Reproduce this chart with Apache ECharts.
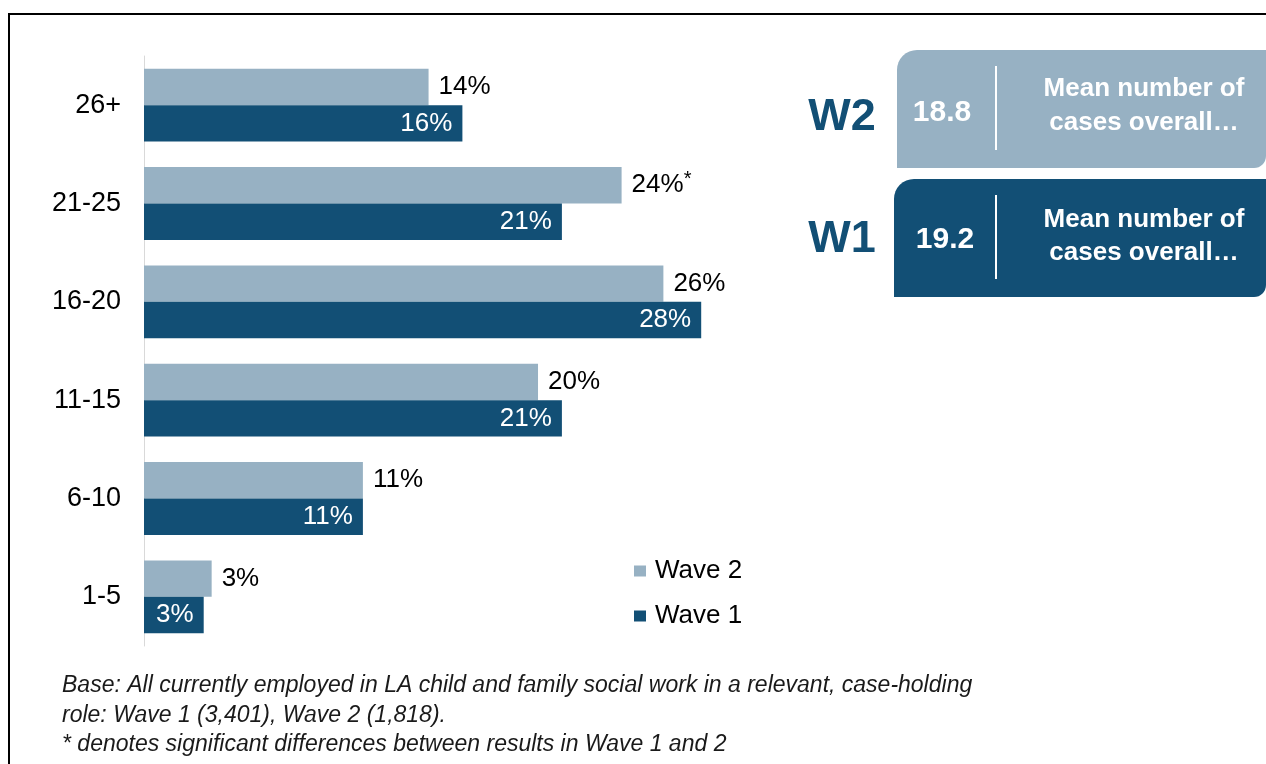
<!DOCTYPE html>
<html>
<head>
<meta charset="utf-8">
<script src="https://cdn.jsdelivr.net/npm/echarts@6/dist/echarts.min.js"></script>
<style>html,body{margin:0;padding:0;background:#fff;}#c{width:1266px;height:764px;}</style>
</head>
<body>
<div id="c"></div>
<script>
const categories = ['1-5', '6-10', '11-15', '16-20', '21-25', '26+'];
const wave2 = [3.4, 11, 19.8, 26.1, 24, 14.3];
const wave1 = [3, 11, 21, 28, 21, 16];
const significant = [false, false, false, false, true, false];
const seriesNames = ['Wave 2', 'Wave 1'];
const meanW2 = '18.8';
const meanW1 = '19.2';
const panelText = ['Mean number of', 'cases overall…'];
const footnotes = [
  'Base: All currently employed in LA child and family social work in a relevant, case-holding',
  'role: Wave 1 (3,401), Wave 2 (1,818).',
  '* denotes significant differences between results in Wave 1 and 2'
];

const FONT = "'Liberation Sans', Arial, sans-serif";
const LIGHT = '#97b1c3';
const DARK = '#124f75';

const chart = echarts.init(document.getElementById('c'), null, {renderer: 'canvas'});

function panel(p) {
  return [
    {type: 'rect', shape: {x: p.bx, y: p.y, width: 1266 - p.bx, height: 118, r: [20, 0, 12, 0]}, style: {fill: p.fill}, z: 10},
    {type: 'rect', shape: {x: 995, y: p.y + 16, width: 2, height: 84}, style: {fill: '#ffffff'}, z: 11},
    {type: 'text', x: p.mx, y: p.my, z: 12, style: {text: p.mean, fill: '#ffffff', fontSize: 30, fontWeight: 'bold', fontFamily: FONT, textAlign: 'center', textVerticalAlign: 'middle'}},
    {type: 'text', x: 1144, y: p.t1, z: 12, style: {text: panelText[0], fill: '#ffffff', fontSize: 26, fontWeight: 'bold', fontFamily: FONT, textAlign: 'center', textVerticalAlign: 'middle'}},
    {type: 'text', x: 1144, y: p.t2, z: 12, style: {text: panelText[1], fill: '#ffffff', fontSize: 26, fontWeight: 'bold', fontFamily: FONT, textAlign: 'center', textVerticalAlign: 'middle'}},
    {type: 'text', x: 842, y: p.wy, z: 12, style: {text: p.w, fill: DARK, fontSize: 45, fontWeight: 'bold', fontFamily: FONT, textAlign: 'center', textVerticalAlign: 'middle'}}
  ];
}

const graphics = [
  {type: 'rect', shape: {x: 9, y: 14, width: 1400, height: 900}, style: {fill: 'none', stroke: '#000', lineWidth: 2}, z: 0, silent: true}
].concat(
  panel({bx: 897, y: 50, fill: LIGHT, w: 'W2', mean: meanW2, mx: 942, my: 113, t1: 89, t2: 123, wy: 118}),
  panel({bx: 894, y: 179, fill: DARK, w: 'W1', mean: meanW1, mx: 945, my: 240, t1: 220, t2: 253, wy: 240})
);

footnotes.forEach(function (t, i) {
  graphics.push({type: 'text', x: 62, y: 686 + i * 29.5, z: 12, style: {text: t, fill: '#1a1a1a', fontSize: 23, fontStyle: 'italic', fontFamily: FONT, textAlign: 'left', textVerticalAlign: 'middle'}});
});

const option = {
  animation: false,
  backgroundColor: '#ffffff',
  textStyle: {fontFamily: FONT},
  grid: {left: 144, top: 56, height: 590, width: 796, containLabel: false},
  legend: {
    data: seriesNames,
    orient: 'vertical',
    left: 634, top: 558, padding: 0,
    itemWidth: 12, itemHeight: 11, itemGap: 19,
    icon: 'rect',
    textStyle: {fontSize: 26, color: '#000', fontFamily: FONT, lineHeight: 26, padding: [0, 0, 0, 4]},
    selectedMode: false
  },
  xAxis: {type: 'value', min: 0, max: 40, show: false},
  yAxis: {
    type: 'category', data: categories,
    axisLine: {show: true, lineStyle: {color: '#d9d9d9', width: 1}},
    axisTick: {show: false},
    axisLabel: {fontSize: 27, color: '#000', margin: 23, fontFamily: FONT}
  },
  series: [
    {
      name: seriesNames[0], type: 'bar', data: wave2,
      barGap: '0%', barCategoryGap: '26%',
      itemStyle: {color: LIGHT},
      label: {
        show: true, position: 'right', distance: 10, color: '#000', fontSize: 26, fontFamily: FONT,
        formatter: function (p) {
          const v = Math.round(p.value) + '%';
          return significant[p.dataIndex] ? '{v|' + v + '}{s|*}' : '{v|' + v + '}';
        },
        rich: {
          v: {fontSize: 26, color: '#000', fontFamily: FONT},
          s: {fontSize: 20, color: '#000', fontFamily: FONT, verticalAlign: 'top', padding: [0, 0, 12, 0]}
        }
      }
    },
    {
      name: seriesNames[1], type: 'bar', data: wave1,
      barGap: '0%', barCategoryGap: '26%',
      itemStyle: {color: DARK},
      label: {
        show: true, position: 'insideRight', distance: 10, color: '#fff', fontSize: 26, fontFamily: FONT,
        formatter: function (p) { return Math.round(p.value) + '%'; }
      }
    }
  ],
  graphic: graphics
};
chart.setOption(option);
</script>
</body>
</html>
